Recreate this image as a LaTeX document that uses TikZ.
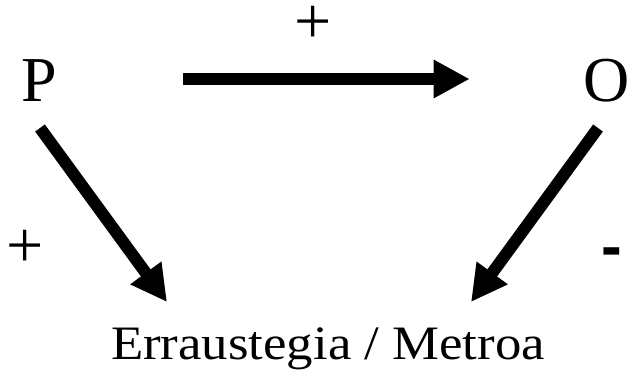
\documentclass[tikz,border=0pt]{standalone}
\usepackage{fontspec}
\setmainfont{Liberation Serif}
\newfontfamily\signfont{Liberation Sans}
\usetikzlibrary{arrows.meta}

\begin{document}
\begin{tikzpicture}[
        x=1pt, y=-1pt,
    % Letras grandes P e O
        letter/.style={font=\fontsize{64}{64}\selectfont, inner sep=0pt, text height=44pt, text depth=0pt},
    % Sinais + e -
        sign/.style={font=\fontsize{66}{66}\selectfont, inner sep=0pt, anchor=base},
        label/.style={font=\fontsize{48}{48}\selectfont, inner sep=0pt, anchor=base},
        arrow/.style={-{Triangle[length=36pt, width=36pt]}, line width=12pt}
    ]
        \useasboundingbox (0,0) rectangle (631,373);

        % --- NOS ---
        \node[letter] (P) at (39,79) {P};
        \node[letter] (O) at (607,79) {O};
        \node[label] (E) at (328,359) {\scalebox{1.1}[1]{Erraustegia / Metroa}};

        % --- SINAIS ---
        \node[sign] (pTop) at (313,43) {+};
        \node[sign] (pLeft) at (25.5,267) {+};
        \node[sign, font=\signfont\bfseries\fontsize{62}{62}\selectfont] (mRight) at (611.5,267) {-};

        % --- PONTAS DAS SETAS ---
        \coordinate (pStart) at (40,128);
        \coordinate (pEnd) at (167,302);
        \coordinate (oStart) at (598,128);
        \coordinate (oEnd) at (471,302);

        % --- LIGACOES ---
        \draw[arrow, shorten <=126pt, shorten >=114pt] (P) -- (O);
        \draw[arrow] (pStart) -- (pEnd);
        \draw[arrow] (oStart) -- (oEnd);
\end{tikzpicture}
\end{document}
